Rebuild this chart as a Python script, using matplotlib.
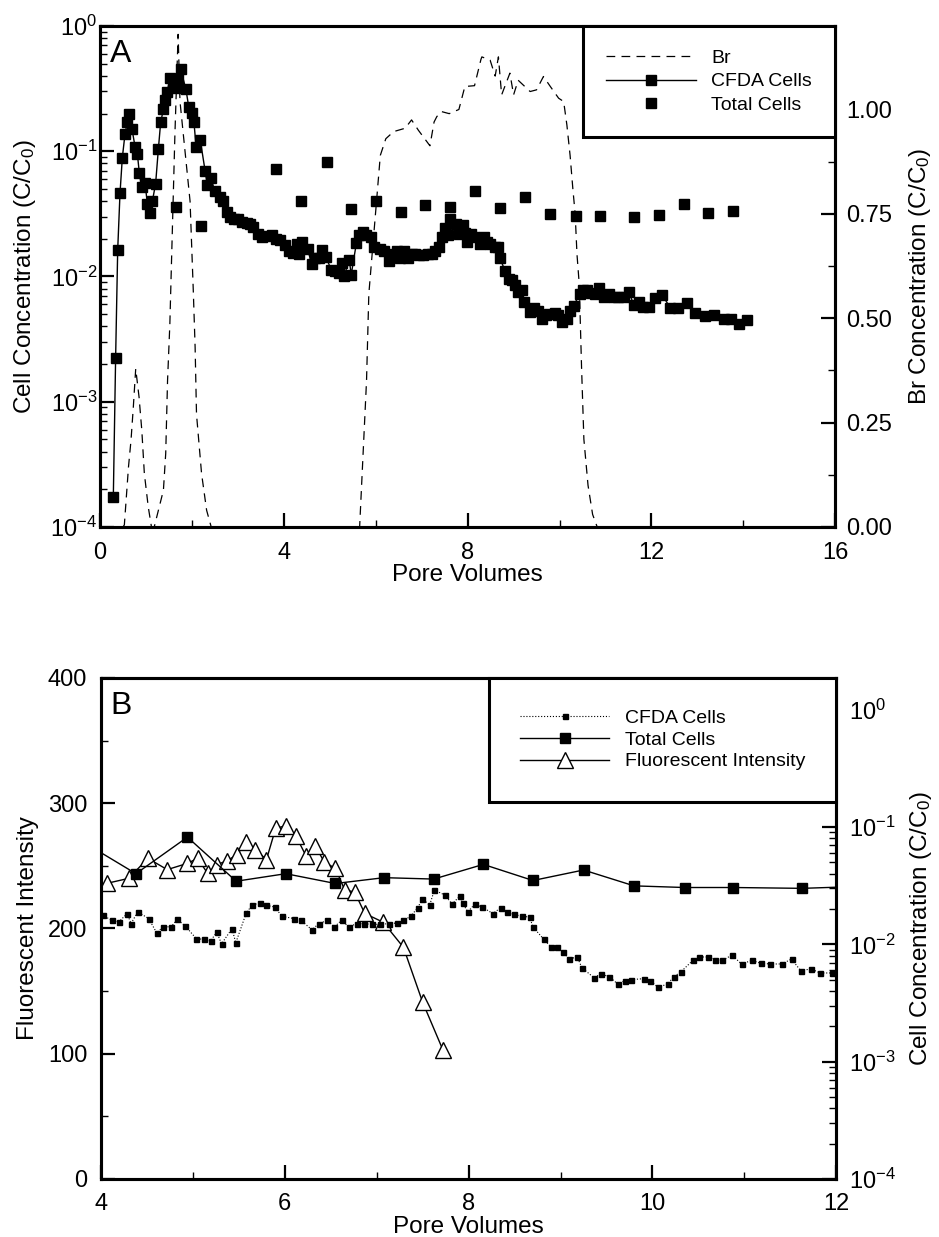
import matplotlib
matplotlib.use("Agg")
import matplotlib.pyplot as plt
import numpy as np
from matplotlib.ticker import FixedLocator, MultipleLocator, LogLocator, NullFormatter, FormatStrFormatter

plt.rcParams["font.family"] = ["Liberation Sans", "DejaVu Sans"]
plt.rcParams["mathtext.fontset"] = "custom"
plt.rcParams["mathtext.rm"] = "Liberation Sans"
plt.rcParams["mathtext.it"] = "Liberation Sans:italic"
plt.rcParams["mathtext.bf"] = "Liberation Sans:bold"
plt.rcParams["axes.unicode_minus"] = False

# ---- data ----
# CFDA cells (C/C0) vs pore volumes
cfda_pv_early = [0.29, 0.34, 0.385, 0.435, 0.486, 0.544, 0.595, 0.64, 0.697, 0.762,
                 0.813, 0.856, 0.907, 0.98, 1.03, 1.08, 1.14, 1.21, 1.27, 1.32, 1.38,
                 1.415, 1.465, 1.52, 1.595, 1.655, 1.70, 1.755, 1.87, 1.93, 2.0, 2.045,
                 2.09, 2.18, 2.285, 2.335, 2.41, 2.50, 2.61, 2.685, 2.76, 2.83, 2.92,
                 3.01, 3.10, 3.19, 3.27, 3.34, 3.43, 3.52, 3.62, 3.74, 3.83, 3.92]
cfda_early = [1.75e-4, 2.25e-3, 0.0163, 0.046, 0.089, 0.137, 0.172, 0.198, 0.150, 0.109,
              0.095, 0.067, 0.052, 0.056, 0.038, 0.032, 0.040, 0.055, 0.104, 0.170, 0.216,
              0.256, 0.299, 0.382, 0.359, 0.318, 0.375, 0.451, 0.312, 0.227, 0.201, 0.170,
              0.109, 0.124, 0.070, 0.054, 0.061, 0.048, 0.043, 0.040, 0.033, 0.030, 0.029,
              0.0286, 0.027, 0.0269, 0.026, 0.025, 0.022, 0.0208, 0.021, 0.0214, 0.020, 0.0195]
cfda_pv_mid = [4.016, 4.119, 4.192, 4.285, 4.326, 4.399, 4.518, 4.606, 4.674, 4.762,
               4.829, 4.917, 5.036, 5.124, 5.192, 5.259, 5.311, 5.425, 5.466, 5.580,
               5.642, 5.725, 5.798, 5.891, 5.969, 6.098, 6.176, 6.295, 6.368, 6.461,
               6.539, 6.617, 6.694, 6.782, 6.865, 6.943, 7.031, 7.135, 7.223, 7.290,
               7.368, 7.446, 7.497, 7.575, 7.627, 7.746, 7.819, 7.902, 7.938, 7.990,
               8.067, 8.145, 8.264, 8.352, 8.420, 8.492, 8.585, 8.663, 8.699, 8.819,
               8.896, 8.959, 9.026, 9.093, 9.181, 9.233, 9.363, 9.440, 9.528, 9.622,
               9.699, 9.767, 9.907, 9.974, 10.062, 10.166, 10.233, 10.306, 10.440, 10.503,
               10.606, 10.684, 10.762, 10.865, 10.969, 11.083, 11.176, 11.280, 11.409, 11.513,
               11.617, 11.720, 11.824, 11.953]
cfda_mid = [0.0177, 0.0160, 0.0155, 0.0183, 0.0150, 0.0189, 0.0166, 0.0125, 0.0141, 0.0141,
            0.0163, 0.0143, 0.0112, 0.0110, 0.0107, 0.0127, 0.0101, 0.0136, 0.0103, 0.0185,
            0.0215, 0.0226, 0.0215, 0.0208, 0.0173, 0.0166, 0.0160, 0.0133, 0.0150, 0.0160,
            0.0141, 0.0160, 0.0141, 0.0150, 0.0150, 0.0148, 0.0148, 0.0150, 0.0152, 0.0160,
            0.0173, 0.0205, 0.0245, 0.0215, 0.0290, 0.0262, 0.0220, 0.0257, 0.0223, 0.0189,
            0.0220, 0.0208, 0.0183, 0.0206, 0.0189, 0.0180, 0.0173, 0.0171, 0.0141, 0.0110,
            0.0095, 0.0094, 0.0086, 0.0075, 0.0078, 0.0063, 0.0052, 0.0056, 0.0053, 0.0046,
            0.0049, 0.0050, 0.0051, 0.0049, 0.0043, 0.0046, 0.0053, 0.0058, 0.0073, 0.0078,
            0.0078, 0.0074, 0.0073, 0.0081, 0.0068, 0.0073, 0.0069, 0.0068, 0.0068, 0.0075,
            0.0059, 0.0062, 0.0057, 0.0057]
cfda_pv_late = [12.07, 12.24, 12.41, 12.57, 12.78, 12.95, 13.16, 13.37, 13.58, 13.74, 13.91, 14.08]
cfda_late = [0.0067, 0.0071, 0.0056, 0.0056, 0.0061, 0.0051, 0.0048, 0.0049, 0.0046, 0.0046, 0.0042, 0.0045]

cfda_pv = cfda_pv_early + cfda_pv_mid + cfda_pv_late
cfda = cfda_early + cfda_mid + cfda_late

# total cells (C/C0)
total_pv = [1.66, 2.20, 3.83, 4.38, 4.94, 5.47, 6.01, 6.55, 7.08, 7.62, 8.16, 8.70,
            9.25, 9.80, 10.35, 10.88, 11.63, 12.17, 12.70, 13.23, 13.77]
total = [0.0357, 0.0255, 0.0726, 0.040, 0.082, 0.0345, 0.040, 0.033, 0.037, 0.036, 0.048,
         0.035, 0.043, 0.0315, 0.0305, 0.0305, 0.030, 0.031, 0.0377, 0.032, 0.0333]

# bromide tracer (C/C0)
br_pv = [0.50, 0.53, 0.62, 0.675, 0.725, 0.777, 0.85, 0.91, 0.965, 1.05, 1.12,
         1.18, 1.38, 1.43, 1.47, 1.52, 1.545, 1.63, 1.70, 1.74, 1.96, 2.03, 2.07, 2.10,
         2.21, 2.32, 2.42,
         5.60, 5.65, 5.80, 5.85, 6.01, 6.10, 6.22, 6.39, 6.64, 6.78, 6.93, 7.18, 7.27,
         7.33, 7.43, 7.60, 7.81, 7.94, 8.15, 8.29, 8.31, 8.49, 8.60, 8.67, 8.74, 8.92,
         9.00, 9.10, 9.36, 9.50, 9.65, 9.80, 9.98, 10.09, 10.16, 10.23, 10.29, 10.34,
         10.38, 10.43, 10.48, 10.53, 10.62, 10.72, 10.82]
br = [0.0, 0.005, 0.144, 0.208, 0.287, 0.379, 0.311, 0.231, 0.128, 0.048, 0.0,
      0.0, 0.088, 0.176, 0.351, 0.486, 0.59, 0.94, 1.18, 1.02, 0.78, 0.566, 0.43, 0.27,
      0.128, 0.04, 0.0,
      0.0, 0.0, 0.35, 0.558, 0.77, 0.89, 0.93, 0.947, 0.955, 0.975, 0.95, 0.913, 0.97,
      0.983, 0.995, 0.99, 1.0, 1.055, 1.057, 1.12, 1.126, 1.118, 1.08, 1.126, 1.035, 1.087,
      1.035, 1.07, 1.043, 1.047, 1.079, 1.055, 1.027, 1.019, 0.963, 0.89, 0.81, 0.75,
      0.653, 0.58, 0.38, 0.21, 0.10, 0.03, 0.0]

# fluorescent intensity
fi_pv = [4.06, 4.30, 4.51, 4.72, 4.94, 5.05, 5.16, 5.26, 5.37, 5.48, 5.58, 5.68, 5.80,
         5.90, 6.01, 6.12, 6.23, 6.33, 6.43, 6.55, 6.65, 6.76, 6.87, 7.07, 7.29, 7.50, 7.72]
fi = [236, 240, 256, 247, 252, 256, 244, 251, 254, 259, 269, 263, 255,
      280, 282, 274, 258, 266, 253, 248, 231, 229, 212, 205, 185, 141, 103]

TICK = 17
LABEL = 17.5
LEG = 14


def style_axis(ax, side):
    for sp in ax.spines.values():
        sp.set_linewidth(2.2)
    ax.tick_params(which="both", direction="in", top=False, labelsize=TICK)
    ax.tick_params(which="major", length=10, width=1.6)
    ax.tick_params(which="minor", length=5, width=1.0)
    if side == "left":
        ax.tick_params(axis="y", which="both", right=False, left=True)
    else:
        ax.tick_params(axis="y", which="both", left=False, right=True)


fig = plt.figure(figsize=(9.39, 12.37), dpi=100)

# ---- panel A ----
axA = fig.add_axes([0.1065, 0.574, 0.783, 0.405])
axA2 = axA.twinx()

axA.set_yscale("log")
h_cfda, = axA.plot(cfda_pv, cfda, "-", color="black", lw=1.0, marker="s", ms=7.5,
                   mfc="black", mec="black", label="CFDA Cells")
h_tot, = axA.plot(total_pv, total, "s", color="black", ms=7.5, label="Total Cells")
h_br, = axA2.plot(br_pv, br, color="black", lw=0.9, dashes=(7, 5), label="Br")

axA.set_xlim(0, 16)
axA.set_ylim(1e-4, 1)
axA2.set_ylim(0, 1.2)
axA.xaxis.set_major_locator(MultipleLocator(4))
axA.xaxis.set_minor_locator(MultipleLocator(2))
axA.yaxis.set_major_locator(LogLocator(base=10, numticks=10))
axA.yaxis.set_minor_locator(LogLocator(base=10, subs=np.arange(2, 10), numticks=10))
axA.yaxis.set_minor_formatter(NullFormatter())
axA2.yaxis.set_major_locator(FixedLocator([0, 0.25, 0.5, 0.75, 1.0]))
axA2.yaxis.set_minor_locator(FixedLocator([0.125, 0.375, 0.625, 0.875, 1.125]))
axA2.yaxis.set_major_formatter(FormatStrFormatter("%.2f"))

style_axis(axA, "left")
style_axis(axA2, "right")
axA.tick_params(axis="y", pad=2)
axA.tick_params(axis="x", pad=11)
axA2.tick_params(axis="y", pad=8)

axA.set_xlabel("Pore Volumes", fontsize=LABEL)
axA.set_ylabel("Cell Concentration (C/C$_0$)", fontsize=LABEL)
axA2.set_ylabel("Br Concentration (C/C$_0$)", fontsize=LABEL)
axA.xaxis.set_label_coords(0.5, -0.074)
axA.yaxis.set_label_coords(-0.084, 0.5)
axA2.yaxis.set_label_coords(1.097, 0.5)
axA.text(0.013, 0.975, "A", transform=axA.transAxes, fontsize=23, va="top", ha="left")

legA = axA2.legend(handles=[h_br, h_cfda, h_tot], loc="upper right",
                   bbox_to_anchor=(1, 1), borderaxespad=0, fontsize=LEG,
                   fancybox=False, framealpha=1, edgecolor="black",
                   handlelength=4.6, handletextpad=0.8, borderpad=1.2,
                   labelspacing=0.3, numpoints=1)
legA.get_frame().set_linewidth(2.2)

# ---- panel B ----
axB = fig.add_axes([0.1076, 0.0469, 0.783, 0.405])
axB2 = axB.twinx()

h_fi, = axB.plot(fi_pv, fi, "-", color="black", lw=1.0, marker="^", ms=11,
                 mfc="white", mec="black", mew=1.0, label="Fluorescent Intensity")
axB2.set_yscale("log")
h_cfdaB, = axB2.plot(cfda_pv, cfda, ":", color="black", lw=0.8, marker="s", ms=3.6,
                     mfc="black", mec="black", label="CFDA Cells")
h_totB, = axB2.plot(total_pv, total, "-", color="black", lw=1.0, marker="s", ms=6.5,
                    mfc="black", mec="black", label="Total Cells")

axB.set_xlim(4, 12)
axB.set_ylim(0, 400)
axB2.set_ylim(1e-4, 10 ** 0.27)
axB.xaxis.set_major_locator(MultipleLocator(2))
axB.xaxis.set_minor_locator(MultipleLocator(1))
axB.yaxis.set_major_locator(MultipleLocator(100))
axB.yaxis.set_minor_locator(MultipleLocator(50))
axB2.yaxis.set_major_locator(LogLocator(base=10, numticks=10))
axB2.yaxis.set_minor_locator(LogLocator(base=10, subs=np.arange(2, 10), numticks=10))
axB2.yaxis.set_minor_formatter(NullFormatter())

style_axis(axB, "left")
style_axis(axB2, "right")
axB.tick_params(axis="y", pad=10)
axB.tick_params(axis="x", pad=10)
axB2.tick_params(axis="y", pad=9)

axB.set_xlabel("Pore Volumes", fontsize=LABEL)
axB.set_ylabel("Fluorescent Intensity", fontsize=LABEL)
axB2.set_ylabel("Cell Concentration (C/C$_0$)", fontsize=LABEL)
axB.xaxis.set_label_coords(0.5, -0.074)
axB.yaxis.set_label_coords(-0.084, 0.5)
axB2.yaxis.set_label_coords(1.097, 0.5)
axB.text(0.013, 0.975, "B", transform=axB.transAxes, fontsize=23, va="top", ha="left")

legB = axB2.legend(handles=[h_cfdaB, h_totB, h_fi], loc="upper right",
                   bbox_to_anchor=(1, 1), borderaxespad=0, fontsize=LEG,
                   fancybox=False, framealpha=1, edgecolor="black",
                   handlelength=4.6, handletextpad=0.8, borderpad=1.6,
                   labelspacing=0.22, numpoints=1)
legB.get_frame().set_linewidth(2.2)

fig.savefig("out.png", dpi=100)
